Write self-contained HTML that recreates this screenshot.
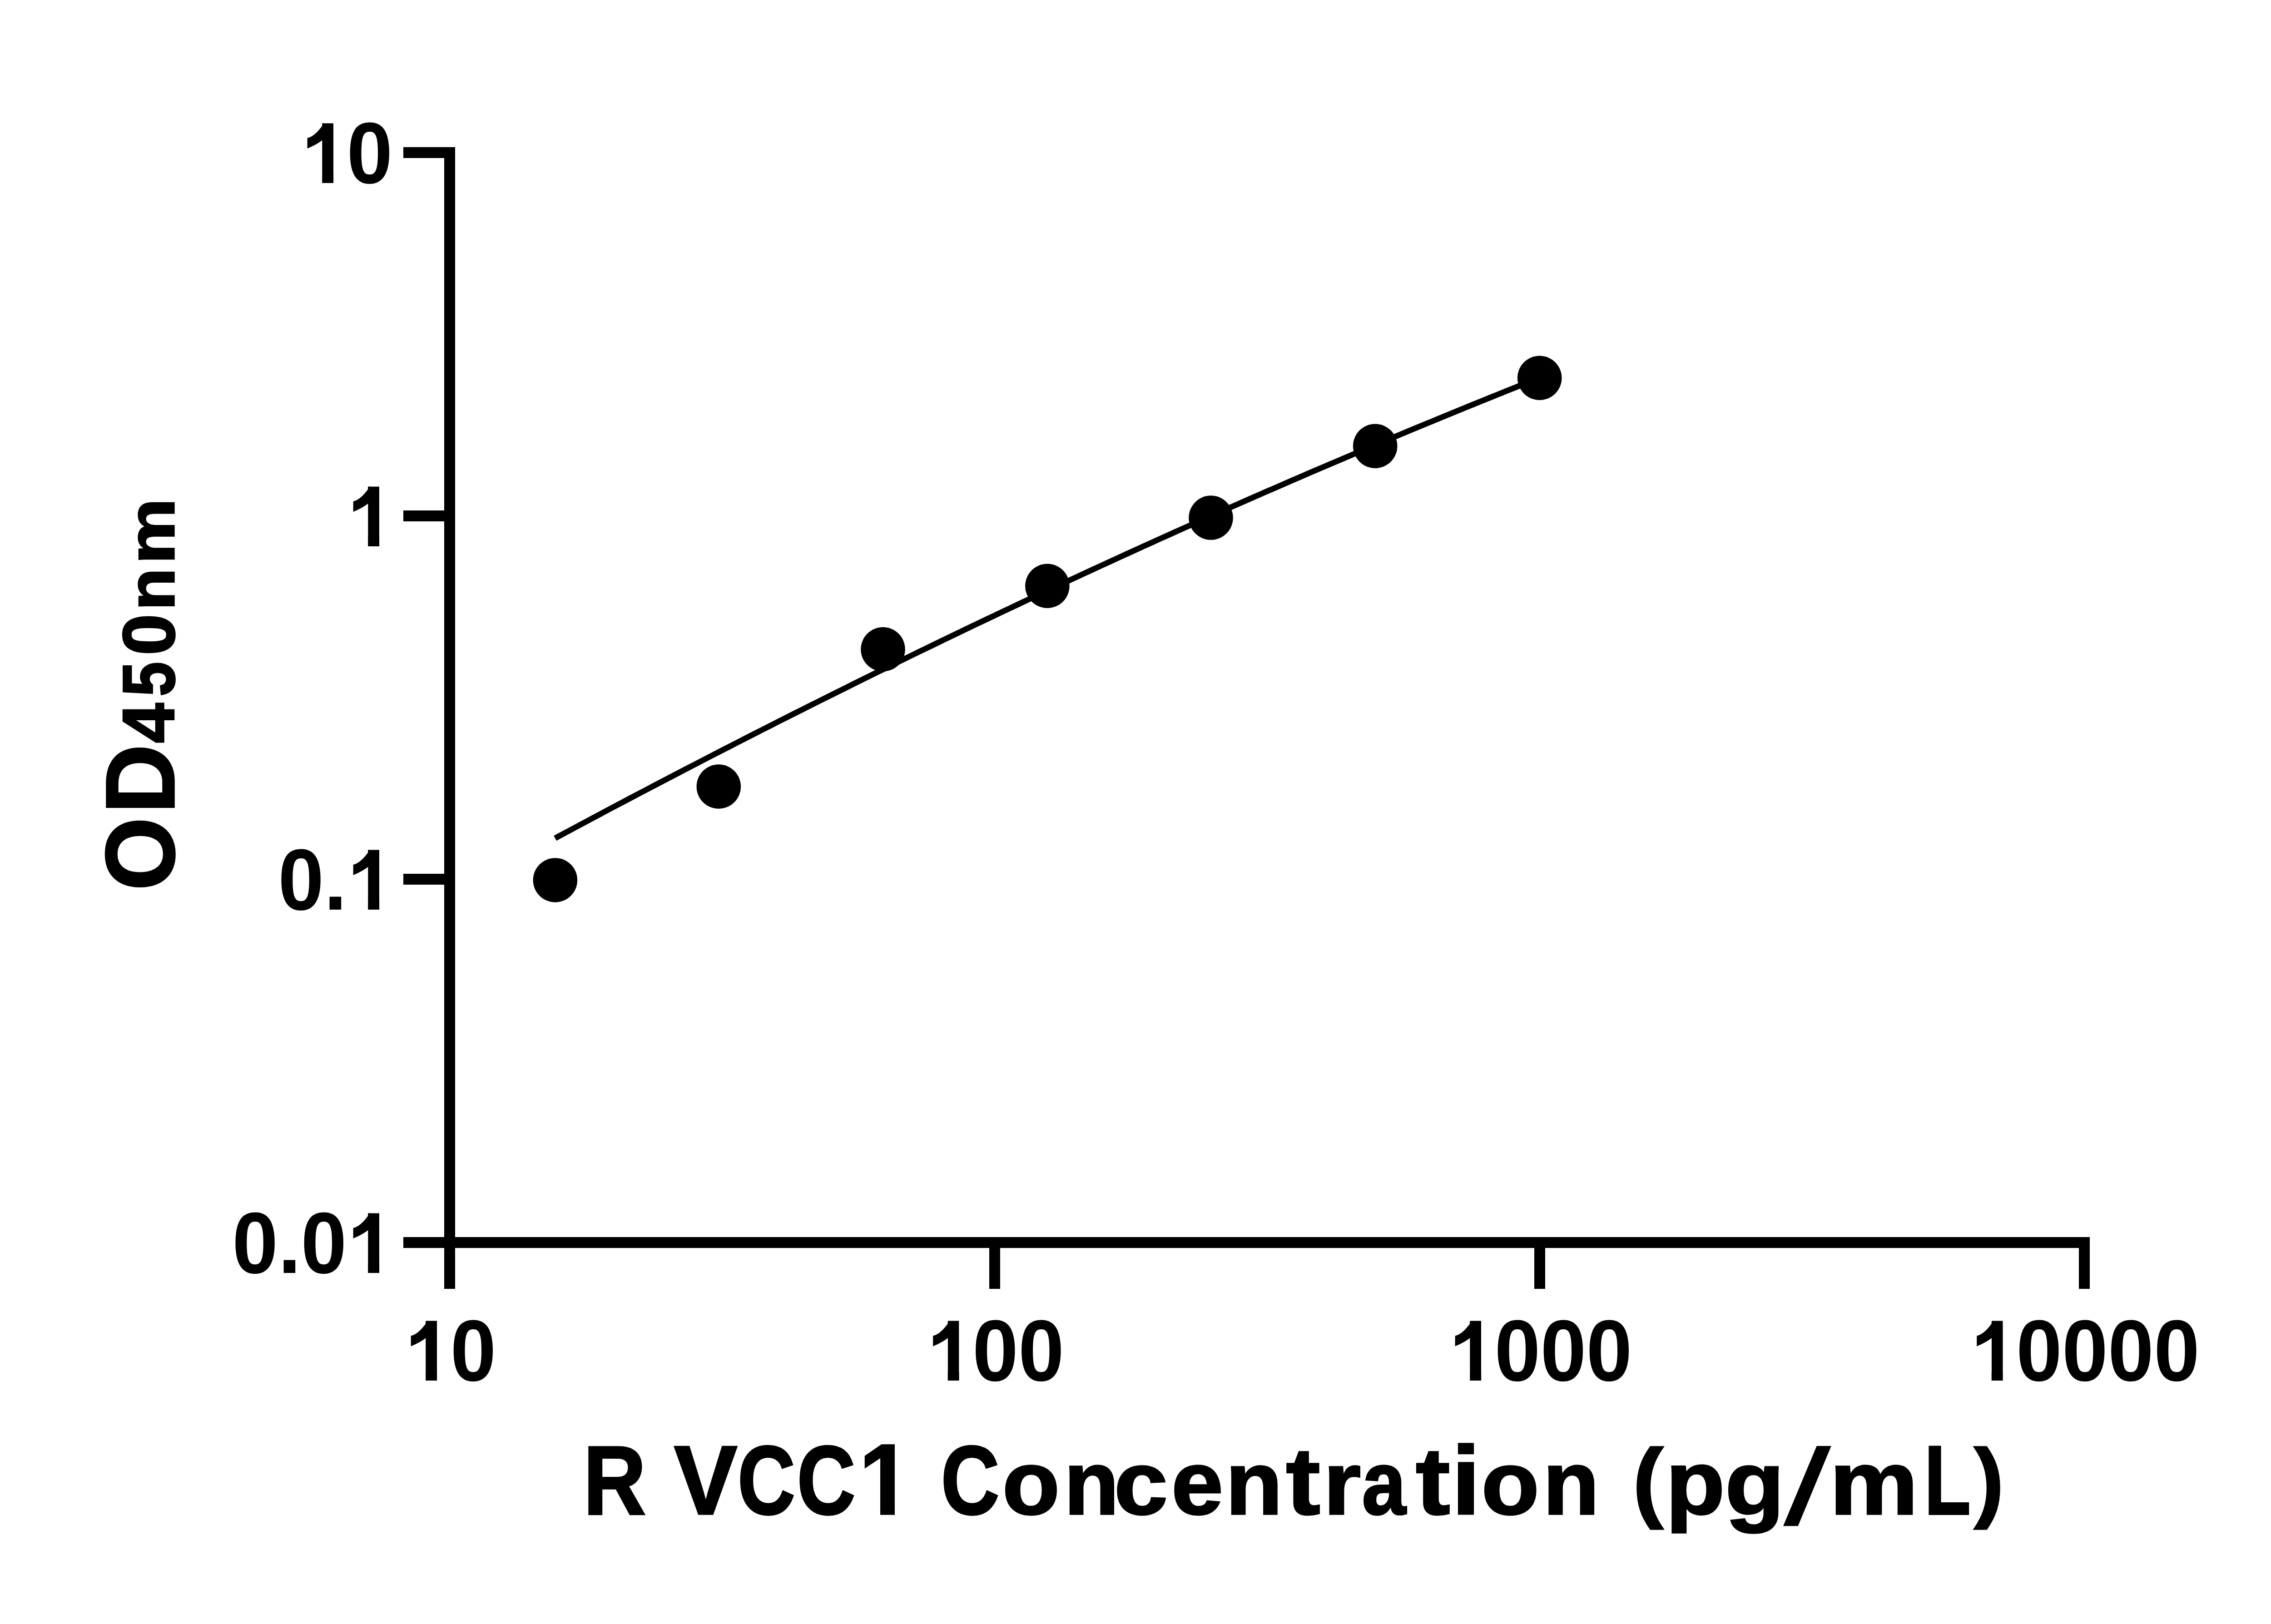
<!DOCTYPE html><html><head><meta charset="utf-8"><title>R VCC1 standard curve</title><style>html,body{margin:0;padding:0;background:#fff;overflow:hidden;}svg{display:block;}text{font-family:"Liberation Sans",sans-serif;font-weight:bold;fill:#000;}</style></head><body>
<svg width="5142" height="3576" viewBox="0 0 5142 3576">
<defs>
<clipPath id="c1" clipPathUnits="userSpaceOnUse"><rect x="-100" y="-300" width="400" height="288.795"/><rect x="23.340" y="-11.705" width="13.721" height="30"/></clipPath>
<clipPath id="cstem" clipPathUnits="userSpaceOnUse"><rect x="23.340" y="-300" width="13.721" height="400"/></clipPath>
<clipPath id="c1s1" clipPathUnits="userSpaceOnUse"><rect x="-100" y="-300" width="400" height="287.977"/><rect x="22.522" y="-12.523" width="15.356" height="30"/></clipPath>
</defs>
<rect x="0" y="0" width="5142" height="3576" fill="#fff"/>
<rect x="978" y="324" width="24" height="2424" fill="#000"/>
<rect x="978" y="2724" width="3623" height="24" fill="#000"/>
<rect x="888" y="324" width="90" height="24" fill="#000"/>
<rect x="888" y="1124" width="90" height="24" fill="#000"/>
<rect x="888" y="1924" width="90" height="24" fill="#000"/>
<rect x="888" y="2724" width="90" height="24" fill="#000"/>
<rect x="978" y="2724" width="24" height="114" fill="#000"/>
<rect x="2178" y="2724" width="24" height="114" fill="#000"/>
<rect x="3378" y="2724" width="24" height="114" fill="#000"/>
<rect x="4577" y="2724" width="24" height="114" fill="#000"/>
<text x="0" y="0" font-size="100" clip-path="url(#cstem)" transform="matrix(1.8150 0 0 1.9039 894.81 3040.00)">1</text>
<path d="M941.6,2909.0 C935.2,2917.0 923.2,2937.0 904.7,2941.6 L904.6,2964.4 Q925.5,2956.0 938.7,2945.2 L937.4,2909.0 Z" fill="#000"/>
<text x="0" y="0" font-size="100" transform="matrix(1.8150 0 0 1.9039 991.50 3040.00)">0</text>
<text x="0" y="0" font-size="100" clip-path="url(#cstem)" transform="matrix(1.8150 0 0 1.9039 2044.34 3040.00)">1</text>
<path d="M2091.1,2909.0 C2084.7,2917.0 2072.7,2937.0 2054.2,2941.6 L2054.1,2964.4 Q2075.0,2956.0 2088.2,2945.2 L2086.9,2909.0 Z" fill="#000"/>
<text x="0" y="0" font-size="100" transform="matrix(1.8150 0 0 1.9039 2141.03 3040.00)">0</text>
<text x="0" y="0" font-size="100" transform="matrix(1.8150 0 0 1.9039 2241.97 3040.00)">0</text>
<text x="0" y="0" font-size="100" clip-path="url(#cstem)" transform="matrix(1.8150 0 0 1.9039 3193.87 3040.00)">1</text>
<path d="M3240.6,2909.0 C3234.2,2917.0 3222.2,2937.0 3203.7,2941.6 L3203.6,2964.4 Q3224.5,2956.0 3237.7,2945.2 L3236.4,2909.0 Z" fill="#000"/>
<text x="0" y="0" font-size="100" transform="matrix(1.8150 0 0 1.9039 3290.56 3040.00)">0</text>
<text x="0" y="0" font-size="100" transform="matrix(1.8150 0 0 1.9039 3391.50 3040.00)">0</text>
<text x="0" y="0" font-size="100" transform="matrix(1.8150 0 0 1.9039 3492.44 3040.00)">0</text>
<text x="0" y="0" font-size="100" clip-path="url(#cstem)" transform="matrix(1.8150 0 0 1.9039 4342.40 3040.00)">1</text>
<path d="M4389.2,2909.0 C4382.8,2917.0 4370.8,2937.0 4352.3,2941.6 L4352.2,2964.4 Q4373.1,2956.0 4386.3,2945.2 L4385.0,2909.0 Z" fill="#000"/>
<text x="0" y="0" font-size="100" transform="matrix(1.8150 0 0 1.9039 4439.09 3040.00)">0</text>
<text x="0" y="0" font-size="100" transform="matrix(1.8150 0 0 1.9039 4540.03 3040.00)">0</text>
<text x="0" y="0" font-size="100" transform="matrix(1.8150 0 0 1.9039 4640.97 3040.00)">0</text>
<text x="0" y="0" font-size="100" transform="matrix(1.8150 0 0 1.9039 4741.91 3040.00)">0</text>
<text x="0" y="0" font-size="100" clip-path="url(#cstem)" transform="matrix(1.8150 0 0 1.9039 666.87 402.50)">1</text>
<path d="M713.6,271.5 C707.2,279.5 695.2,299.5 676.7,304.1 L676.6,326.9 Q697.5,318.5 710.7,307.7 L709.4,271.5 Z" fill="#000"/>
<text x="0" y="0" font-size="100" transform="matrix(1.8150 0 0 1.9039 763.56 402.50)">0</text>
<text x="0" y="0" font-size="100" clip-path="url(#cstem)" transform="matrix(1.8150 0 0 1.9039 767.81 1202.50)">1</text>
<path d="M814.6,1071.5 C808.2,1079.5 796.2,1099.5 777.7,1104.1 L777.6,1126.9 Q798.5,1118.5 811.7,1107.7 L810.4,1071.5 Z" fill="#000"/>
<text x="0" y="0" font-size="100" transform="matrix(1.8150 0 0 1.9039 612.19 2002.50)">0</text>
<text x="0" y="0" font-size="100" transform="matrix(1.8150 0 0 1.9039 713.13 2002.50)">.</text>
<text x="0" y="0" font-size="100" clip-path="url(#cstem)" transform="matrix(1.8150 0 0 1.9039 767.81 2002.50)">1</text>
<path d="M814.6,1871.5 C808.2,1879.5 796.2,1899.5 777.7,1904.1 L777.6,1926.9 Q798.5,1918.5 811.7,1907.7 L810.4,1871.5 Z" fill="#000"/>
<text x="0" y="0" font-size="100" transform="matrix(1.8150 0 0 1.9039 511.25 2802.50)">0</text>
<text x="0" y="0" font-size="100" transform="matrix(1.8150 0 0 1.9039 612.19 2802.50)">.</text>
<text x="0" y="0" font-size="100" transform="matrix(1.8150 0 0 1.9039 662.62 2802.50)">0</text>
<text x="0" y="0" font-size="100" clip-path="url(#cstem)" transform="matrix(1.8150 0 0 1.9039 767.81 2802.50)">1</text>
<path d="M814.6,2671.5 C808.2,2679.5 796.2,2699.5 777.7,2704.1 L777.6,2726.9 Q798.5,2718.5 811.7,2707.7 L810.4,2671.5 Z" fill="#000"/>
<polyline points="1222.2,1845.8 1240.4,1836.0 1258.6,1826.2 1276.8,1816.4 1295.1,1806.7 1313.3,1797.0 1331.5,1787.3 1349.7,1777.6 1367.9,1768.0 1386.1,1758.4 1404.3,1748.8 1422.6,1739.2 1440.8,1729.6 1459.0,1720.1 1477.2,1710.6 1495.4,1701.1 1513.6,1691.6 1531.8,1682.2 1550.1,1672.7 1568.3,1663.3 1586.5,1653.9 1604.7,1644.6 1622.9,1635.2 1641.1,1625.9 1659.3,1616.6 1677.6,1607.3 1695.8,1598.1 1714.0,1588.8 1732.2,1579.6 1750.4,1570.4 1768.6,1561.3 1786.8,1552.1 1805.1,1543.0 1823.3,1533.9 1841.5,1524.8 1859.7,1515.8 1877.9,1506.7 1896.1,1497.7 1914.3,1488.7 1932.6,1479.7 1950.8,1470.8 1969.0,1461.8 1987.2,1452.9 2005.4,1444.0 2023.6,1435.2 2041.8,1426.3 2060.1,1417.5 2078.3,1408.7 2096.5,1399.9 2114.7,1391.2 2132.9,1382.4 2151.1,1373.7 2169.3,1365.0 2187.6,1356.3 2205.8,1347.7 2224.0,1339.1 2242.2,1330.5 2260.4,1321.9 2278.6,1313.3 2296.8,1304.8 2315.1,1296.2 2333.3,1287.7 2351.5,1279.3 2369.7,1270.8 2387.9,1262.4 2406.1,1254.0 2424.3,1245.6 2442.6,1237.2 2460.8,1228.9 2479.0,1220.5 2497.2,1212.2 2515.4,1203.9 2533.6,1195.7 2551.8,1187.4 2570.1,1179.2 2588.3,1171.0 2606.5,1162.9 2624.7,1154.7 2642.9,1146.6 2661.1,1138.5 2679.3,1130.4 2697.6,1122.3 2715.8,1114.3 2734.0,1106.2 2752.2,1098.2 2770.4,1090.3 2788.6,1082.3 2806.8,1074.4 2825.1,1066.5 2843.3,1058.6 2861.5,1050.7 2879.7,1042.8 2897.9,1035.0 2916.1,1027.2 2934.3,1019.4 2952.6,1011.7 2970.8,1003.9 2989.0,996.2 3007.2,988.5 3025.4,980.8 3043.6,973.2 3061.8,965.5 3080.1,957.9 3098.3,950.3 3116.5,942.8 3134.7,935.2 3152.9,927.7 3171.1,920.2 3189.3,912.7 3207.6,905.2 3225.8,897.8 3244.0,890.4 3262.2,883.0 3280.4,875.6 3298.6,868.3 3316.8,860.9 3335.1,853.6 3353.3,846.3 3371.5,839.1 3389.7,831.8" fill="none" stroke="#000" stroke-width="12.5" stroke-linecap="butt" stroke-linejoin="round"/>
<circle cx="1222.4" cy="1938" r="48.75" fill="#000"/>
<circle cx="1582.3" cy="1732" r="48.75" fill="#000"/>
<circle cx="1944" cy="1429.8" r="48.75" fill="#000"/>
<circle cx="2305.9" cy="1290.3" r="48.75" fill="#000"/>
<circle cx="2666" cy="1140.1" r="48.75" fill="#000"/>
<circle cx="3027.7" cy="982.2" r="48.75" fill="#000"/>
<circle cx="3389.7" cy="832.2" r="48.75" fill="#000"/>
<text x="0" y="0" font-size="100" stroke="#000" stroke-width="1.729" stroke-linejoin="miter" transform="matrix(1.9109 0 0 2.1454 1284.17 3333.75)">R</text>
<text x="0" y="0" font-size="100" stroke="#000" stroke-width="1.653" stroke-linejoin="miter" transform="matrix(2.0893 0 0 2.1454 1483.92 3333.75)">V</text>
<text x="0" y="0" font-size="100" stroke="#000" stroke-width="1.803" stroke-linejoin="miter" transform="matrix(1.7559 0 0 2.1454 1624.05 3333.75)">C</text>
<text x="0" y="0" font-size="100" stroke="#000" stroke-width="1.790" stroke-linejoin="miter" transform="matrix(1.7819 0 0 2.1454 1754.74 3333.75)">C</text>
<text x="0" y="0" font-size="100" stroke="#000" stroke-width="1.635" clip-path="url(#c1s1)" transform="matrix(2.0778 0 0 2.2050 1891.25 3333.75)">1</text>
<text x="0" y="0" font-size="100" stroke="#000" stroke-width="1.790" stroke-linejoin="miter" transform="matrix(1.7819 0 0 2.1454 2071.74 3333.75)">C</text>
<text x="0" y="0" font-size="100" stroke="#000" stroke-width="1.730" stroke-linejoin="miter" transform="matrix(2.0705 0 0 1.9774 2206.66 3333.75)">o</text>
<text x="0" y="0" font-size="100" stroke="#000" stroke-width="1.770" stroke-linejoin="miter" transform="matrix(1.9776 0 0 1.9774 2342.71 3333.75)">n</text>
<text x="0" y="0" font-size="100" stroke="#000" stroke-width="1.705" stroke-linejoin="miter" transform="matrix(2.1300 0 0 1.9774 2452.83 3333.75)">c</text>
<text x="0" y="0" font-size="100" stroke="#000" stroke-width="1.737" stroke-linejoin="miter" transform="matrix(2.0521 0 0 1.9774 2578.93 3333.75)">e</text>
<text x="0" y="0" font-size="100" stroke="#000" stroke-width="1.737" stroke-linejoin="miter" transform="matrix(2.0542 0 0 1.9774 2698.21 3333.75)">n</text>
<text x="0" y="0" font-size="100" stroke="#000" stroke-width="1.601" stroke-linejoin="miter" transform="matrix(2.2716 0 0 2.1047 2831.18 3333.75)">t</text>
<text x="0" y="0" font-size="100" stroke="#000" stroke-width="1.706" stroke-linejoin="miter" transform="matrix(2.1291 0 0 1.9774 2913.42 3333.75)">r</text>
<text x="0" y="0" font-size="100" stroke="#000" stroke-width="1.886" stroke-linejoin="miter" transform="matrix(1.7423 0 0 1.9774 2998.45 3333.75)">a</text>
<text x="0" y="0" font-size="100" stroke="#000" stroke-width="1.600" stroke-linejoin="miter" transform="matrix(2.2748 0 0 2.1047 3117.07 3333.75)">t</text>
<text x="0" y="0" font-size="100" stroke="#000" stroke-width="1.579" stroke-linejoin="miter" transform="matrix(2.2958 0 0 2.1405 3195.72 3333.75)">i</text>
<text x="0" y="0" font-size="100" stroke="#000" stroke-width="1.723" stroke-linejoin="miter" transform="matrix(2.0855 0 0 1.9774 3261.50 3333.75)">o</text>
<text x="0" y="0" font-size="100" stroke="#000" stroke-width="1.748" stroke-linejoin="miter" transform="matrix(2.0273 0 0 1.9774 3396.99 3333.75)">n</text>
<text x="0" y="0" font-size="100" stroke="#000" stroke-width="1.771" stroke-linejoin="miter" transform="matrix(2.0055 0 0 1.9482 3595.06 3327.32)">(</text>
<text x="0" y="0" font-size="100" stroke="#000" stroke-width="1.703" stroke-linejoin="miter" transform="matrix(2.1353 0 0 1.9774 3667.17 3333.75)">p</text>
<text x="0" y="0" font-size="100" stroke="#000" stroke-width="1.702" stroke-linejoin="miter" transform="matrix(2.1375 0 0 1.9774 3797.98 3333.75)">g</text>
<text x="0" y="0" font-size="100" stroke="#000" stroke-width="1.471" stroke-linejoin="miter" transform="matrix(2.4381 0 -0.5047 2.3220 3927.28 3354.40)">/</text>
<text x="0" y="0" font-size="100" stroke="#000" stroke-width="1.681" stroke-linejoin="miter" transform="matrix(2.1912 0 0 1.9774 4028.31 3333.75)">m</text>
<text x="0" y="0" font-size="100" stroke="#000" stroke-width="1.849" stroke-linejoin="miter" transform="matrix(1.6700 0 0 2.1454 4236.78 3333.75)">L</text>
<text x="0" y="0" font-size="100" stroke="#000" stroke-width="1.791" stroke-linejoin="miter" transform="matrix(1.9594 0 0 1.9482 4346.56 3327.32)">)</text>
<g transform="rotate(-90)">
<text x="0" y="0" font-size="100" stroke="#000" stroke-width="1.659" stroke-linejoin="miter" transform="matrix(2.0696 0 0 2.1497 -1960.64 383.25)">O</text>
<text x="0" y="0" font-size="100" stroke="#000" stroke-width="1.644" stroke-linejoin="miter" transform="matrix(2.1083 0 0 2.1497 -1791.25 383.25)">D</text>
<text x="0" y="0" font-size="100" stroke="#000" stroke-width="2.187" stroke-linejoin="miter" transform="matrix(1.5869 0 0 1.6134 -1636.25 383.25)">4</text>
<text x="0" y="0" font-size="100" stroke="#000" stroke-width="2.359" stroke-linejoin="miter" transform="matrix(1.3647 0 0 1.6134 -1533.15 383.25)">5</text>
<text x="0" y="0" font-size="100" stroke="#000" stroke-width="2.153" stroke-linejoin="miter" transform="matrix(1.6380 0 0 1.6134 -1442.93 383.25)">0</text>
<text x="0" y="0" font-size="100" stroke="#000" stroke-width="2.358" stroke-linejoin="miter" transform="matrix(1.5179 0 0 1.4520 -1343.66 383.25)">n</text>
<text x="0" y="0" font-size="100" stroke="#000" stroke-width="2.281" stroke-linejoin="miter" transform="matrix(1.6211 0 0 1.4520 -1241.84 383.25)">m</text>
</g>
</svg></body></html>
